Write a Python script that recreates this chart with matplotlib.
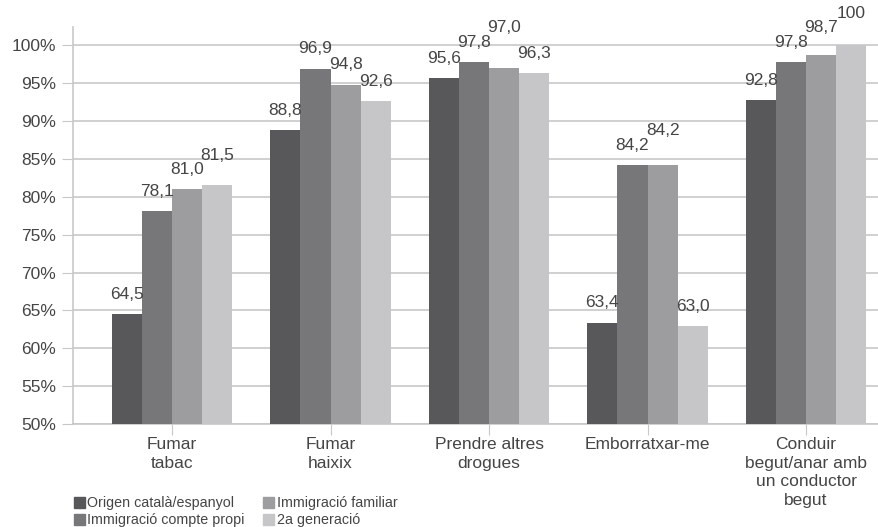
import numpy as np
import matplotlib.pyplot as plt
from matplotlib.patches import Patch

plt.rcParams["font.family"] = ["Liberation Sans", "DejaVu Sans"]

# data
categories = ["Fumar\ntabac", "Fumar\nhaixix", "Prendre altres\ndrogues",
              "Emborratxar-me", "Conduir\nbegut/anar amb\nun conductor\nbegut"]
series = ["Origen català/espanyol", "Immigració compte propi",
          "Immigració familiar", "2a generació"]
origen = [64.5, 88.8, 95.6, 63.4, 92.8]
compte_propi = [78.1, 96.9, 97.8, 84.2, 97.8]
familiar = [81.0, 94.8, 97.0, 84.2, 98.7]
generacio2 = [81.5, 92.6, 96.3, 63.0, 100]
labels = [["64,5", "88,8", "95,6", "63,4", "92,8"],
          ["78,1", "96,9", "97,8", "84,2", "97,8"],
          ["81,0", "94,8", "97,0", "84,2", "98,7"],
          ["81,5", "92,6", "96,3", "63,0", "100"]]
yticks = [50, 55, 60, 65, 70, 75, 80, 85, 90, 95, 100]

colors = ["#58585a", "#77777a", "#9d9da0", "#c6c6c8"]
txt = "#454545"
grid = "#c8c8c8"

fig = plt.figure(figsize=(8.79, 5.27), dpi=100)
ax = fig.add_axes([0.083, 0.195, 0.917, 0.754])

values = [origen, compte_propi, familiar, generacio2]
x = np.arange(len(categories))
w = 0.19
for i, vals in enumerate(values):
    ax.bar(x + (i - 1.5) * w, vals, w, color=colors[i], zorder=3)

# value labels, stacked upward when they would collide
pad = 1.6
h = 1.9
for j in range(len(categories)):
    prev = None
    for i in range(len(values)):
        y = values[i][j] + pad
        if prev is not None and abs(y - prev) < h:
            y = prev + h
        prev = y
        ax.text(x[j] + (i - 1.5) * w, y, labels[i][j], ha="center",
                va="bottom", fontsize=12.5, color=txt, zorder=4)

ax.set_ylim(50, 102.4)
ax.set_xlim(-0.625, 4.46)
ax.set_yticks(yticks)
ax.set_yticklabels([f"{t}%" for t in yticks])
ax.set_xticks(x)
ax.set_xticklabels(categories, linespacing=1.32)
ax.yaxis.grid(True, color=grid, linewidth=1.2, zorder=0)
ax.tick_params(axis="y", length=8, color=grid, labelsize=12.5,
               labelcolor=txt, pad=4)
ax.tick_params(axis="x", length=8, color=grid, labelsize=12.5,
               labelcolor=txt, pad=1)
for s in ["top", "right"]:
    ax.spines[s].set_visible(False)
for s in ["left", "bottom"]:
    ax.spines[s].set_color(grid)
    ax.spines[s].set_linewidth(1.2)

handles = [Patch(color=c) for c in colors]
fig.legend(handles, series, loc="upper left", bbox_to_anchor=(0.084, 0.058),
           ncol=2, frameon=False, fontsize=10.3, labelcolor=txt,
           handlelength=0.75, handleheight=0.75, handletextpad=0.2,
           columnspacing=1.3, labelspacing=0.2, borderpad=0, borderaxespad=0)

fig.savefig("out.png", dpi=100)
